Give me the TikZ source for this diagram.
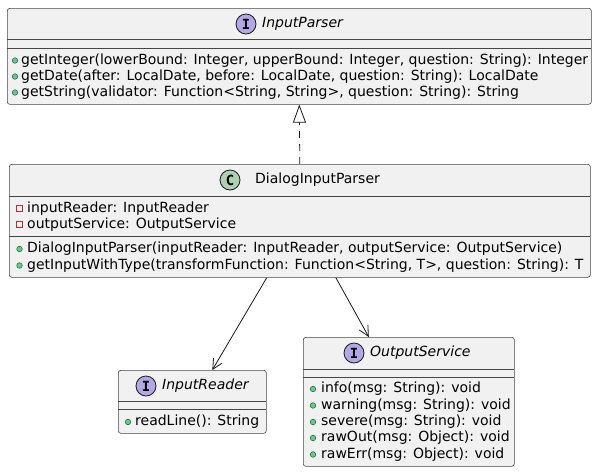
\documentclass[tikz,border=0pt]{standalone}
\usepackage{fontspec}
\setmainfont{DejaVu Sans}
\newfontfamily\spotfont{DejaVu Sans Mono}
\usetikzlibrary{arrows.meta}
\definecolor{boxfill}{HTML}{F1F1F1}
\definecolor{boxline}{HTML}{181818}
\definecolor{ifill}{HTML}{B4A7E5}
\definecolor{cfill}{HTML}{ADD1B2}
\definecolor{pubfill}{HTML}{84BE84}
\definecolor{publine}{HTML}{038048}
\definecolor{privline}{HTML}{C82930}
\tikzset{
  box/.style={draw=boxline!80, fill=boxfill, rounded corners=2.5pt, line width=0.6pt, inner sep=0pt, anchor=north west},
  sepline/.style={draw=boxline!80, line width=0.6pt},
  member/.style={anchor=west, inner sep=0pt, font=\fontsize{14}{16}\selectfont},
  title/.style={anchor=west, inner sep=0pt, font=\fontsize{14}{16}\selectfont},
  ititle/.style={title, font=\fontsize{14}{16}\selectfont\itshape},
  spot/.style={circle, draw=boxline, line width=0.8pt, minimum size=20pt, inner sep=0pt, font=\fontsize{14}{14}\selectfont\spotfont\bfseries},
  pub/.style={circle, draw=publine, fill=pubfill, line width=0.6pt, minimum size=5.5pt, inner sep=0pt},
  priv/.style={rectangle, draw=privline, line width=0.8pt, minimum size=6.5pt, inner sep=0pt},
  dep/.style={draw=boxline, line width=0.8pt, -{Straight Barb[length=10pt,width=10pt]}},
  impl/.style={draw=boxline, line width=0.8pt, dash pattern=on 7pt off 6pt, -{Triangle[open, length=18pt, width=13pt]}},
}
\begin{document}
\begin{tikzpicture}[x=1pt,y=-1pt]
\useasboundingbox[fill=white] (0,0) rectangle (599,472);

% InputParser
\node[box, minimum width=584pt, minimum height=96pt] (ip) at (7,8) {};
\node[spot, fill=ifill] (ipspot) at (246,24) {I};
\node[ititle] (ipname) at (262,24) {InputParser};
\draw[sepline] (7,39) -- (591,39);
\draw[sepline] (7,48) -- (591,48);
\node[pub] (ipm1d) at (15,60.5) {};
\node[member] (ipm1) at (21,60.5) {getInteger(lowerBound: Integer, upperBound: Integer, question: String): Integer};
\node[pub] (ipm2d) at (15,76.5) {};
\node[member] (ipm2) at (21,76.5) {getDate(after: LocalDate, before: LocalDate, question: String): LocalDate};
\node[pub] (ipm3d) at (15,92.5) {};
\node[member] (ipm3) at (21,92.5) {getString(validator: Function<String, String>, question: String): String};

% DialogInputParser
\node[box, minimum width=581pt, minimum height=113pt] (dip) at (9,164) {};
\node[spot, fill=cfill] (dipspot) at (230,180) {C};
\node[title] (dipname) at (255,180) {DialogInputParser};
\draw[sepline] (9,196) -- (590,196);
\node[priv] (dipa1d) at (19.5,208.5) {};
\node[member] (dipa1) at (27,208.5) {inputReader: InputReader};
\node[priv] (dipa2d) at (19.5,224.5) {};
\node[member] (dipa2) at (27,224.5) {outputService: OutputService};
\draw[sepline] (9,236) -- (590,236);
\node[pub] (dipm1d) at (19.5,249) {};
\node[member] (dipm1) at (27,249) {DialogInputParser(inputReader: InputReader, outputService: OutputService)};
\node[pub] (dipm2d) at (19.5,265.5) {};
\node[member] (dipm2) at (27,265.5) {getInputWithType(transformFunction: Function<String, T>, question: String): T};

% InputReader
\node[box, minimum width=148pt, minimum height=63pt] (ir) at (118,370) {};
\node[spot, fill=ifill] (irspot) at (146,386) {I};
\node[ititle] (irname) at (162,386) {InputReader};
\draw[sepline] (118,401) -- (266,401);
\draw[sepline] (118,409) -- (266,409);
\node[pub] (irm1d) at (128,422) {};
\node[member] (irm1) at (135,422) {readLine(): String};

% OutputService
\node[box, minimum width=211pt, minimum height=129pt] (os) at (303,337) {};
\node[spot, fill=ifill] (osspot) at (354,353) {I};
\node[ititle] (osname) at (370,353) {OutputService};
\draw[sepline] (303,369) -- (514,369);
\draw[sepline] (303,377) -- (514,377);
\node[pub] (osm1d) at (313,389) {};
\node[member] (osm1) at (321,389) {info(msg: String): void};
\node[pub] (osm2d) at (313,405.5) {};
\node[member] (osm2) at (321,405.5) {warning(msg: String): void};
\node[pub] (osm3d) at (313,422) {};
\node[member] (osm3) at (321,422) {severe(msg: String): void};
\node[pub] (osm4d) at (313,438) {};
\node[member] (osm4) at (321,438) {rawOut(msg: Object): void};
\node[pub] (osm5d) at (313,454.5) {};
\node[member] (osm5) at (321,454.5) {rawErr(msg: Object): void};

% connectors
\draw[impl] (dip.north) -- (ip.south);
\draw[dep] ([xshift=-33pt]dip.south) -- ([xshift=20pt]ir.north);
\draw[dep] ([xshift=36pt]dip.south) -- ([xshift=-40pt]os.north);
\end{tikzpicture}
\end{document}
